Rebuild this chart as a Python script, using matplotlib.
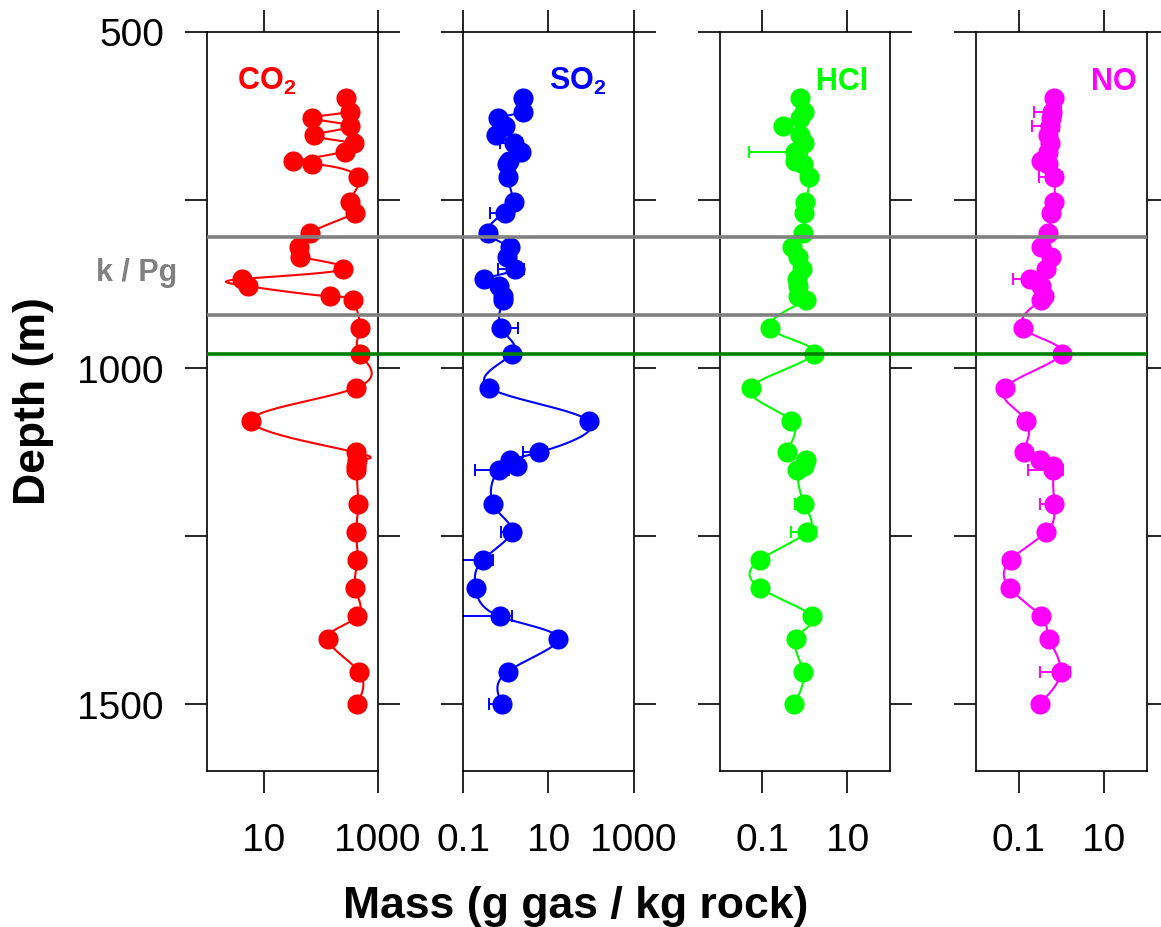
import numpy as np
import matplotlib
matplotlib.use("Agg")
import matplotlib.pyplot as plt
from matplotlib.lines import Line2D
from matplotlib import transforms
from matplotlib.ticker import NullLocator

plt.rcParams["font.family"] = ["Liberation Sans", "DejaVu Sans"]
plt.rcParams["mathtext.fontset"] = "custom"
plt.rcParams["mathtext.rm"] = "Liberation Sans"
plt.rcParams["mathtext.bf"] = "Liberation Sans:bold"

# ---- data: sample depths (m) and released gas mass (g gas / kg rock) ----
depth = [599, 619, 629, 641, 654, 666, 679, 693, 697, 716, 754, 770, 799, 821,
         835, 854, 868, 879, 894, 900, 941, 979, 1030, 1079, 1126, 1138, 1146,
         1152, 1203, 1244, 1286, 1328, 1370, 1403, 1452, 1500]

co2 = [275, 324, 70, 334, 77, 382, 265, 33, 71, 449, 324, 397, 66, 42, 43, 248,
       4.2, 5.3, 144, 372, 487, 487, 421, 6.0, 421, 430, 415, 425, 456, 421,
       443, 409, 443, 133, 468, 438]
co2_sd = [0] * 36

so2 = [2.58, 2.58, 0.65, 0.96, 0.61, 1.56, 2.27, 1.19, 1.07, 1.11, 1.56, 0.96,
       0.39, 1.26, 1.05, 1.65, 0.31, 0.71, 0.85, 0.88, 0.77, 1.42, 0.41, 88.5,
       6.0, 1.26, 1.86, 0.71, 0.51, 1.38, 0.29, 0.198, 0.73, 17.3, 1.13, 0.83]
so2_sd = [0, 0, 0, 0, 0, 0.83, 0, 0, 0, 0, 0, 0.53, 0, 0, 0, 1.0, 0, 0, 0, 0,
          1.2, 0, 0, 0, 3.4, 0, 0, 0.52, 0, 0.58, 0.21, 0, 0.65, 0, 0, 0.42]

hcl = [0.79, 0.97, 0.79, 0.31, 0.79, 0.97, 0.58, 0.58, 0.91, 1.29, 1.04, 0.94,
       0.91, 0.50, 0.69, 0.86, 0.66, 0.68, 0.68, 1.08, 0.156, 1.61, 0.055,
       0.475, 0.39, 1.08, 0.94, 0.66, 0.97, 1.16, 0.088, 0.091, 1.47, 0.62,
       0.91, 0.57]
hcl_sd = [0, 0, 0, 0, 0, 0, 0.53, 0, 0, 0, 0, 0, 0, 0, 0, 0, 0, 0, 0, 0, 0, 0,
          0, 0, 0, 0, 0, 0, 0.39, 0.68, 0, 0, 0, 0, 0, 0]

no = [0.67, 0.62, 0.57, 0.54, 0.48, 0.54, 0.50, 0.34, 0.49, 0.68, 0.68, 0.57,
      0.49, 0.34, 0.57, 0.45, 0.18, 0.34, 0.40, 0.34, 0.128, 1.03, 0.048,
      0.153, 0.133, 0.31, 0.64, 0.64, 0.68, 0.45, 0.065, 0.062, 0.34, 0.52,
      0.97, 0.31]
no_sd = [0, 0.39, 0, 0.33, 0, 0, 0, 0, 0, 0.38, 0, 0, 0, 0, 0, 0, 0.105, 0, 0,
         0, 0, 0, 0, 0, 0, 0, 0, 0.47, 0.37, 0, 0, 0, 0, 0, 0.65, 0]

gases = [r"$\mathbf{CO_2}$", r"$\mathbf{SO_2}$", "HCl", "NO"]
colors = ["#FF0000", "#0000FF", "#00FF00", "#FF00FF"]
xlims = [(1, 1000), (0.1, 1000), (0.01, 100), (0.01, 100)]
xticks = [[10, 1000], [0.1, 10, 1000], [0.1, 10], [0.1, 10]]
xticklabels = [["10", "1000"], ["0.1", "10", "1000"], ["0.1", "10"], ["0.1", "10"]]
label_x = [0.174, 0.506, 0.568, 0.672]

yticks = [500, 750, 1000, 1250, 1500]
yticklabels = ["500", "", "1000", "", "1500"]

boundary_gray = [806, 921]
boundary_green = 980


def natural_spline(v, n_sub=24):
    """Natural cubic spline through v against its index."""
    v = np.asarray(v, float)
    n = len(v)
    A = np.zeros((n, n))
    r = np.zeros(n)
    A[0, 0] = A[-1, -1] = 1.0
    for i in range(1, n - 1):
        A[i, i - 1], A[i, i], A[i, i + 1] = 1.0, 4.0, 1.0
        r[i] = 6.0 * (v[i + 1] - 2 * v[i] + v[i - 1])
    M = np.linalg.solve(A, r)
    out = []
    u = np.linspace(0, 1, n_sub, endpoint=False)
    for i in range(n - 1):
        s = ((1 - u) * v[i] + u * v[i + 1]
             + ((1 - u) ** 3 - (1 - u)) * M[i] / 6.0
             + (u ** 3 - u) * M[i + 1] / 6.0)
        out.append(s)
    out.append([v[-1]])
    return np.concatenate(out)


W, H = 1161, 928
fig = plt.figure(figsize=(W / 100, H / 100), dpi=100)

panel_left = [207, 463, 719.5, 976]
pw = 170.5
top_px, bot_px = 32.5, 772

series = [(co2, co2_sd), (so2, so2_sd), (hcl, hcl_sd), (no, no_sd)]
axes = []
for k in range(4):
    l = panel_left[k]
    ax = fig.add_axes([l / W, 1 - bot_px / H, pw / W, (bot_px - top_px) / H])
    axes.append(ax)
    vals, sd = series[k]
    vals = np.asarray(vals, float)
    sd = np.asarray(sd, float)
    d = np.asarray(depth, float)
    col = colors[k]

    # smooth curve through the samples (log-space for x)
    lx = natural_spline(np.log10(vals))
    ly = natural_spline(d)
    ax.plot(10 ** lx, ly, color=col, lw=1.5, zorder=2)

    # error bars: the lower arm is only drawn where it stays positive
    m = sd > 0
    lo = np.where(vals - sd > 0, sd, 0.0)
    ax.errorbar(vals[m], d[m], xerr=[lo[m], sd[m]], fmt="none", ecolor=col,
                elinewidth=1.4, capsize=4, capthick=1.4, zorder=2.5)

    ax.plot(vals, d, "o", color=col, ms=14.5, mec=col, mew=0, zorder=3)

    ax.set_xscale("log")
    ax.set_xlim(*xlims[k])
    ax.set_ylim(1600, 500)
    ax.set_xticks(xticks[k])
    ax.set_xticklabels(xticklabels[k])
    ax.xaxis.set_minor_locator(NullLocator())
    ax.set_yticks(yticks)
    if k == 0:
        ax.set_yticklabels(yticklabels)
    else:
        ax.set_yticklabels([])
    ax.tick_params(axis="both", which="major", direction="out", length=16,
                   width=1.2, top=True, right=True, labeltop=False,
                   labelright=False, labelsize=28, color="black")
    ax.tick_params(axis="x", pad=21)
    ax.tick_params(axis="y", pad=15)
    for sp in ax.spines.values():
        sp.set_linewidth(1.2)
    ax.patch.set_alpha(0)

    ax.text(label_x[k], 0.922, gases[k], transform=ax.transAxes, color=col,
            fontsize=22, fontweight="bold", ha="left", va="baseline")

# boundary lines spanning all panels
trans = transforms.blended_transform_factory(fig.transFigure, axes[0].transData)
x0, x1 = panel_left[0] / W, (panel_left[3] + pw) / W
for yb in boundary_gray:
    fig.add_artist(Line2D([x0, x1], [yb, yb], transform=trans, color="#808080",
                          lw=2.6, solid_capstyle="butt", zorder=10))
fig.add_artist(Line2D([x0, x1], [boundary_green, boundary_green], transform=trans,
                      color="#007F00", lw=2.6, solid_capstyle="butt", zorder=10))

fig.text(177 / W, 1 - 273 / H, "k / Pg", color="#808080", fontsize=22,
         fontweight="bold", ha="right", va="center")
fig.text(34 / W, 1 - 401 / H, "Depth (m)", rotation=90, fontsize=32,
         fontweight="bold", ha="center", va="center")
fig.text(576 / W, 1 - 918 / H, "Mass (g gas / kg rock)", fontsize=32,
         fontweight="bold", ha="center", va="baseline")

fig.savefig("out.png", dpi=100, facecolor="white")
